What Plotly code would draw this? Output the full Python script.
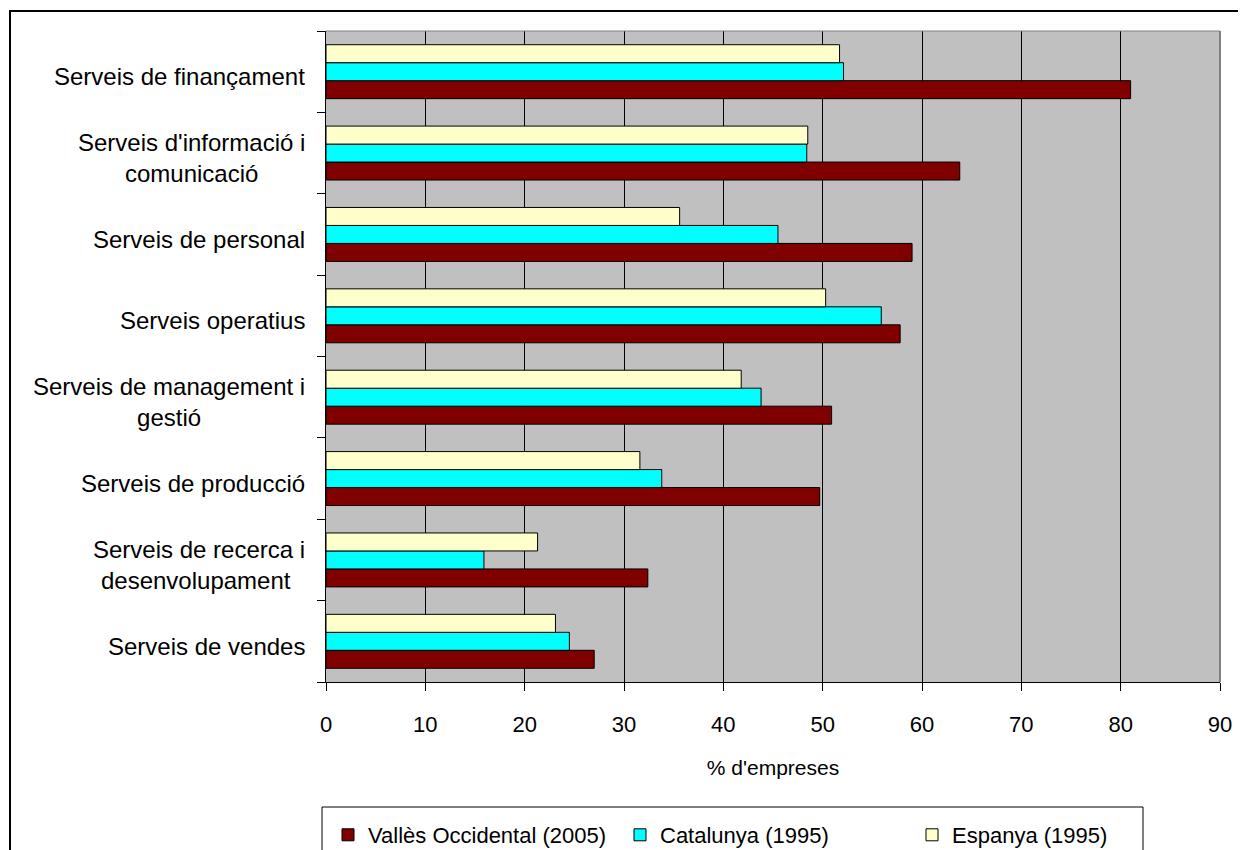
import plotly.graph_objects as go

categories = [
    "Serveis de vendes",
    "Serveis de recerca i desenvolupament",
    "Serveis de producció",
    "Serveis de management i gestió",
    "Serveis operatius",
    "Serveis de personal",
    "Serveis d'informació i comunicació",
    "Serveis de finançament",
]
category_labels = [
    "Serveis de vendes",
    "Serveis de recerca i<br>desenvolupament ",
    "Serveis de producció",
    "Serveis de management i<br>gestió",
    "Serveis operatius",
    "Serveis de personal",
    "Serveis d'informació i<br>comunicació",
    "Serveis de finançament",
]
valles = [27.0, 32.4, 49.7, 50.9, 57.8, 59.0, 63.8, 81.0]
catalunya = [24.5, 15.9, 33.8, 43.8, 55.9, 45.5, 48.4, 52.1]
espanya = [23.1, 21.3, 31.6, 41.8, 50.3, 35.6, 48.5, 51.7]
series_names = ["Vallès Occidental (2005)", "Catalunya (1995)", "Espanya (1995)"]
x_ticks = [0, 10, 20, 30, 40, 50, 60, 70, 80, 90]

colors = ["#800000", "#00FFFF", "#FFFFCC"]
FONT = "Liberation Sans, Arial, sans-serif"

fig = go.Figure()
for name, vals, col in zip(series_names, [valles, catalunya, espanya], colors):
    fig.add_trace(go.Bar(
        y=categories, x=vals, orientation="h", name=name,
        marker=dict(color=col, line=dict(color="black", width=1)),
    ))

# page body has an 8px margin; figure sized to fit the 1246x850 window
OFF = 8
W, H = 1246 - OFF, 850 - OFF
# plot area in window pixels
PX0, PX1, PY0, PY1 = 326, 1220, 31, 682
L, R, T = PX0 - OFF, (W + OFF) - PX1, PY0 - OFF
B = H - (PY1 - OFF)
pw, ph = PX1 - PX0, PY1 - PY0

def px(xw):
    return (xw - PX0) / pw

def py(yw):
    return (PY1 - yw) / ph

annotations = []
for cat, lab in zip(categories, category_labels):
    annotations.append(dict(
        x=0, xref="paper", y=cat, yref="y", xanchor="right", yanchor="middle",
        xshift=-19, yshift=-5, text=lab, align="center", showarrow=False,
        font=dict(family=FONT, size=24, color="black"),
    ))

shapes = [
    # outer chart border
    dict(type="rect", xref="paper", yref="paper", x0=px(10), x1=px(1270),
         y0=py(880), y1=py(11), line=dict(color="black", width=2), layer="below"),
    # plot area top and right edges
    dict(type="line", xref="paper", yref="paper", x0=0, x1=1, y0=1, y1=1,
         line=dict(color="#808080", width=1)),
    dict(type="line", xref="paper", yref="paper", x0=1, x1=1, y0=0, y1=1,
         line=dict(color="#808080", width=2)),
    # legend box
    dict(type="rect", xref="paper", yref="paper", x0=px(322), x1=px(1143),
         y0=py(880), y1=py(807), line=dict(color="black", width=1)),
]

fig.update_layout(
    width=W, height=H,
    margin=dict(l=L, r=R, t=T, b=B, autoexpand=False),
    paper_bgcolor="white", plot_bgcolor="#C0C0C0",
    barmode="group", bargap=0.337, bargroupgap=0,
    font=dict(family=FONT, color="black"),
    showlegend=True,
    legend=dict(
        orientation="h", x=px(328), y=py(835), xanchor="left", yanchor="middle",
        bgcolor="rgba(0,0,0,0)", borderwidth=0, traceorder="normal",
        font=dict(family=FONT, size=22, color="black"),
        entrywidth=247,
    ),
    xaxis=dict(
        range=[0, 90], tickvals=x_ticks, ticktext=[str(v) for v in x_ticks],
        showgrid=True, gridcolor="black", gridwidth=1, zeroline=False,
        ticks="outside", ticklen=8, tickcolor="black", tickwidth=1,
        showline=True, linecolor="black", linewidth=1,
        tickfont=dict(family=FONT, size=22), ticklabelstandoff=15,
        title=dict(text="% d'empreses", font=dict(family=FONT, size=21), standoff=23),
    ),
    yaxis=dict(
        type="category", range=[-0.5, 7.5], tickson="boundaries",
        ticks="outside", ticklen=8, tickcolor="black", tickwidth=1,
        showline=True, linecolor="black", linewidth=1,
        showticklabels=False, showgrid=False,
    ),
    annotations=annotations,
    shapes=shapes,
)

fig.write_html("out.html")
